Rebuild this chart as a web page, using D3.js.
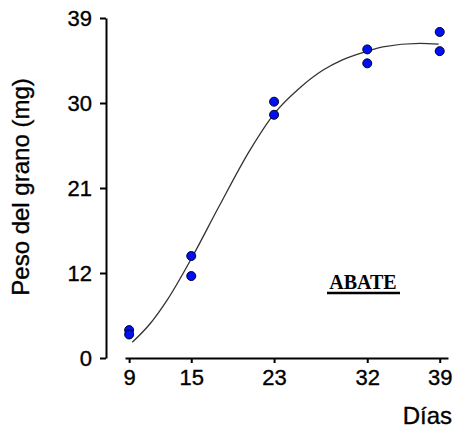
<!DOCTYPE html>
<meta charset="utf-8">
<head>
    <style>
        body, html {
            margin: 0;
            background: white;
            font-family: "Liberation Sans", Arial, sans-serif;
        }
        .axis path, .axis line {
            stroke: #000;
            stroke-width: 2px;
        }
        .axis text {
            font-size: 22px;
            fill: #000;
            stroke: #000;
            stroke-width: 0.35px;
        }
        .title {
            fill: #000;
            stroke: #000;
            stroke-width: 0.35px;
        }
    </style>
    <script src="https://cdn.jsdelivr.net/npm/d3@7"></script>
</head>
<body>
<script>
    // sampled days and grain weight (two replicates per day)
    var days = [9, 15, 23, 32, 39];
    var rep1 = [3.2, 11.7, 29.4, 35.4, 37.4];
    var rep2 = [2.7, 9.4, 27.9, 33.8, 35.2];

    // fitted curve
    var fitDays = [9.3, 11.0, 12.7, 15.1, 17.6, 20.7, 23.0, 25.5, 27.7, 29.6, 32.0, 33.5, 37.1, 38.9];
    var fitWeight = [1.8, 3.9, 6.7, 11.6, 17.2, 23.9, 28.0, 31.0, 33.0, 34.2, 35.2, 35.7, 36.1, 36.0];

    var xTickLabels = ["9", "15", "23", "32", "39"];
    var yTickLabels = ["0", "12", "21", "30", "39"];

    var width = 462, height = 434;

    var svg = d3.select("body").append("svg")
        .attr("width", width)
        .attr("height", height);

    var x = d3.scaleLinear().domain([8.6, 39.8]).range([125, 448]);
    var y = d3.scaleLinear().domain([0, 39]).range([358, 18]);

    // y ticks sit evenly spaced, labelled as in the original
    var yTickPos = yTickLabels.map(function(d, i){ return i * 39 / (yTickLabels.length - 1); });

    var xAxis = d3.axisBottom(x)
        .tickValues(days)
        .tickFormat(function(d, i){ return xTickLabels[i]; })
        .tickSizeInner(5)
        .tickSizeOuter(0)
        .tickPadding(6);

    var yAxis = d3.axisLeft(y)
        .tickValues(yTickPos)
        .tickFormat(function(d, i){ return yTickLabels[i]; })
        .tickSizeInner(6)
        .tickSizeOuter(0)
        .tickPadding(8);

    svg.append("g")
        .attr("class", "axis")
        .attr("transform", "translate(0,358)")
        .call(xAxis);

    svg.append("g")
        .attr("class", "axis")
        .attr("transform", "translate(106,0)")
        .call(yAxis);

    svg.selectAll(".axis text").attr("font-family", "Liberation Sans, Arial, sans-serif");

    // axis titles
    svg.append("text")
        .attr("class", "title")
        .attr("transform", "translate(29,187) rotate(-90)")
        .attr("text-anchor", "middle")
        .attr("font-size", 24)
        .text("Peso del grano (mg)");

    svg.append("text")
        .attr("class", "title")
        .attr("x", 452)
        .attr("y", 424)
        .attr("text-anchor", "end")
        .attr("font-size", 24)
        .text("Días");

    // fitted curve
    var fit = fitDays.map(function(d, i){ return [d, fitWeight[i]]; });
    var line = d3.line()
        .x(function(d){ return x(d[0]); })
        .y(function(d){ return y(d[1]); })
        .curve(d3.curveMonotoneX);

    svg.append("path")
        .datum(fit)
        .attr("d", line)
        .attr("fill", "none")
        .attr("stroke", "#333")
        .attr("stroke-width", 1.3);

    // observed points
    var pts = [];
    days.forEach(function(d, i){
        pts.push([d, rep1[i]]);
        pts.push([d, rep2[i]]);
    });

    svg.selectAll(".dot")
        .data(pts)
        .enter()
        .append("circle")
        .attr("class", "dot")
        .attr("cx", function(d){ return x(d[0]); })
        .attr("cy", function(d){ return y(d[1]); })
        .attr("r", 4.5)
        .attr("fill", "#0010f0")
        .attr("stroke", "#000030")
        .attr("stroke-width", 1);

    // cultivar label
    svg.append("text")
        .attr("x", 363)
        .attr("y", 289)
        .attr("text-anchor", "middle")
        .attr("font-family", "Liberation Serif, Times New Roman, serif")
        .attr("font-weight", "bold")
        .attr("font-size", 20)
        .text("ABATE");

    svg.append("line")
        .attr("x1", 327)
        .attr("x2", 400)
        .attr("y1", 293)
        .attr("y2", 293)
        .attr("stroke", "#000")
        .attr("stroke-width", 2.5);
</script>
</body>
